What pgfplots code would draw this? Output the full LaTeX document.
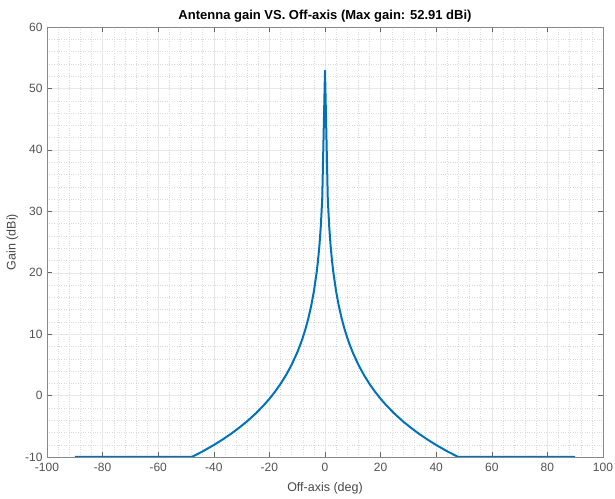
\documentclass[border=0pt]{standalone}
\usepackage{pgfplots}
\pgfplotsset{compat=1.18}
\usepackage{fontspec}
\setmainfont{Liberation Sans}
\definecolor{mblue}{rgb}{0,0.447,0.741}
\definecolor{axgray}{rgb}{0.15,0.15,0.15}
\begin{document}
\begin{tikzpicture}
\begin{axis}[
  scale only axis,
  width=556pt, height=430pt,
  xmin=-100, xmax=100, ymin=-10, ymax=60,
  xtick={-100,-80,...,100}, ytick={-10,0,...,60},
  minor x tick num=4, minor y tick num=4,
  grid=both,
  major grid style={gray!18, line width=0.4pt},
  minor grid style={gray!28, dotted, line width=0.4pt},
  minor tick length=0pt,
  major tick length=5pt,
  tick style={axgray!70, line width=0.5pt},
  axis line style={axgray!55, line width=0.7pt},
  tick align=inside,
  ticklabel style={font=\fontsize{12}{14}\selectfont, text=axgray!80},
  xticklabel style={yshift=-3pt},
  yticklabel style={xshift=-1pt},
  /pgf/number format/assume math mode=true,
  xlabel={Off-axis (deg)}, ylabel={Gain (dBi)},
  label style={font=\fontsize{12.5}{14}\selectfont, text=axgray!85},
  xlabel style={yshift=-4pt},
  ylabel style={yshift=0pt},
  title={\bfseries Antenna gain VS. Off-axis (Max gain: 52.91 dBi)},
  title style={font=\fontsize{13}{15}\selectfont, text=black, yshift=-5pt},
]
\addplot[mblue, line width=2pt, line join=round] coordinates {
(-90,-10) (-48,-10) (-44,-9.09) (-40,-8.05) (-37,-7.20) (-34,-6.29) (-31,-5.28)
(-28,-4.18) (-25,-2.95) (-22,-1.56) (-20,-0.53) (-18,0.62) (-16,1.90) (-14,3.35)
(-12,5.02) (-10,7.00) (-9,8.14) (-8,9.42) (-7,10.87) (-6,12.55) (-5,14.53)
(-4,16.95) (-3,20.07) (-2.5,22.05) (-2,24.47) (-1.5,27.60) (-1,32.00)
(0,52.91)
(1,32.00) (1.5,27.60) (2,24.47) (2.5,22.05) (3,20.07) (4,16.95) (5,14.53)
(6,12.55) (7,10.87) (8,9.42) (9,8.14) (10,7.00) (12,5.02) (14,3.35) (16,1.90)
(18,0.62) (20,-0.53) (22,-1.56) (25,-2.95) (28,-4.18) (31,-5.28) (34,-6.29)
(37,-7.20) (40,-8.05) (44,-9.09) (48,-10) (90,-10)
};
\end{axis}
\pgfresetboundingbox
\path[use as bounding box] ([xshift=-47pt,yshift=-42pt]current axis.south west) rectangle ([xshift=12pt,yshift=27pt]current axis.north east);
\end{tikzpicture}
\end{document}
